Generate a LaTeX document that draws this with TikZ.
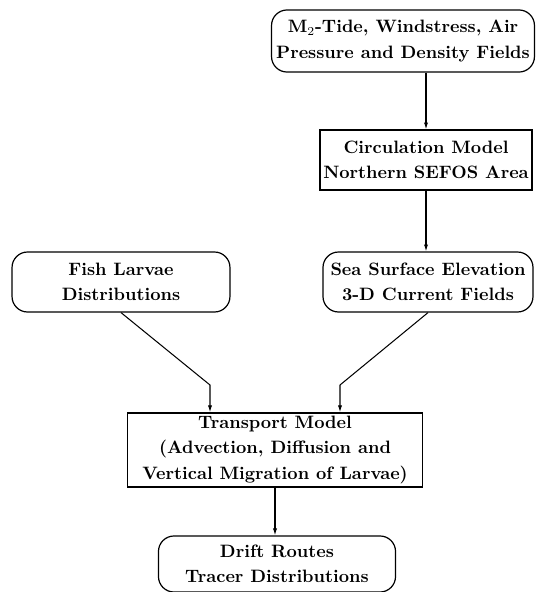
\documentclass[tikz,border=0pt]{standalone}
\usepackage{tikz}
\usetikzlibrary{positioning, arrows.meta}

\begin{document}
\begin{tikzpicture}[x=0.58pt, y=-0.58pt,
  rbox/.style={draw, rounded corners=9pt, align=center, inner sep=0pt,
    line width=0.7pt, font=\fontsize{10.4}{14.6}\selectfont\bfseries},
  sbox/.style={draw, align=center, inner sep=0pt,
    line width=0.7pt, font=\fontsize{10.4}{14.6}\selectfont\bfseries},
  flow/.style={-{Latex[length=4pt,width=2.4pt]}, line width=0.6pt}]
\useasboundingbox (0,0) rectangle (536,592);

\node[rbox, minimum width=152.5pt, minimum height=36pt] (Forcing) at (403,41)
  {M$_2$-Tide, Windstress, Air\\Pressure and Density Fields};
\node[sbox, minimum width=123pt, minimum height=34.8pt] (Circ) at (426,160)
  {Circulation Model\\Northern SEFOS Area};

\node[rbox, minimum width=126.4pt, minimum height=34.8pt] (Larvae) at (121,282)
  {Fish Larvae\\Distributions};
\node[rbox, minimum width=121.8pt, minimum height=34.8pt] (Currents) at (428,282)
  {Sea Surface Elevation\\3-D Current Fields};

\node[sbox, minimum width=171pt, minimum height=43pt] (Transport) at (275,450)
  {Transport Model\\(Advection, Diffusion and\\Vertical Migration of Larvae)};
\node[rbox, minimum width=137.5pt, minimum height=32.5pt] (Drift) at (277,564)
  {Drift Routes\\Tracer Distributions};

\coordinate (bendL) at (210,385);
\coordinate (bendR) at (340,385);

\draw[flow] (Forcing.south -| Circ.north) -- (Circ.north);
\draw[flow] (Circ.south) -- (Circ.south |- Currents.north);
\draw[flow] (Larvae.south) -- (bendL) -- (bendL |- Transport.north);
\draw[flow] (Currents.south) -- (bendR) -- (bendR |- Transport.north);
\draw[flow] (Transport.south) -- (Transport.south |- Drift.north);

\end{tikzpicture}
\end{document}
